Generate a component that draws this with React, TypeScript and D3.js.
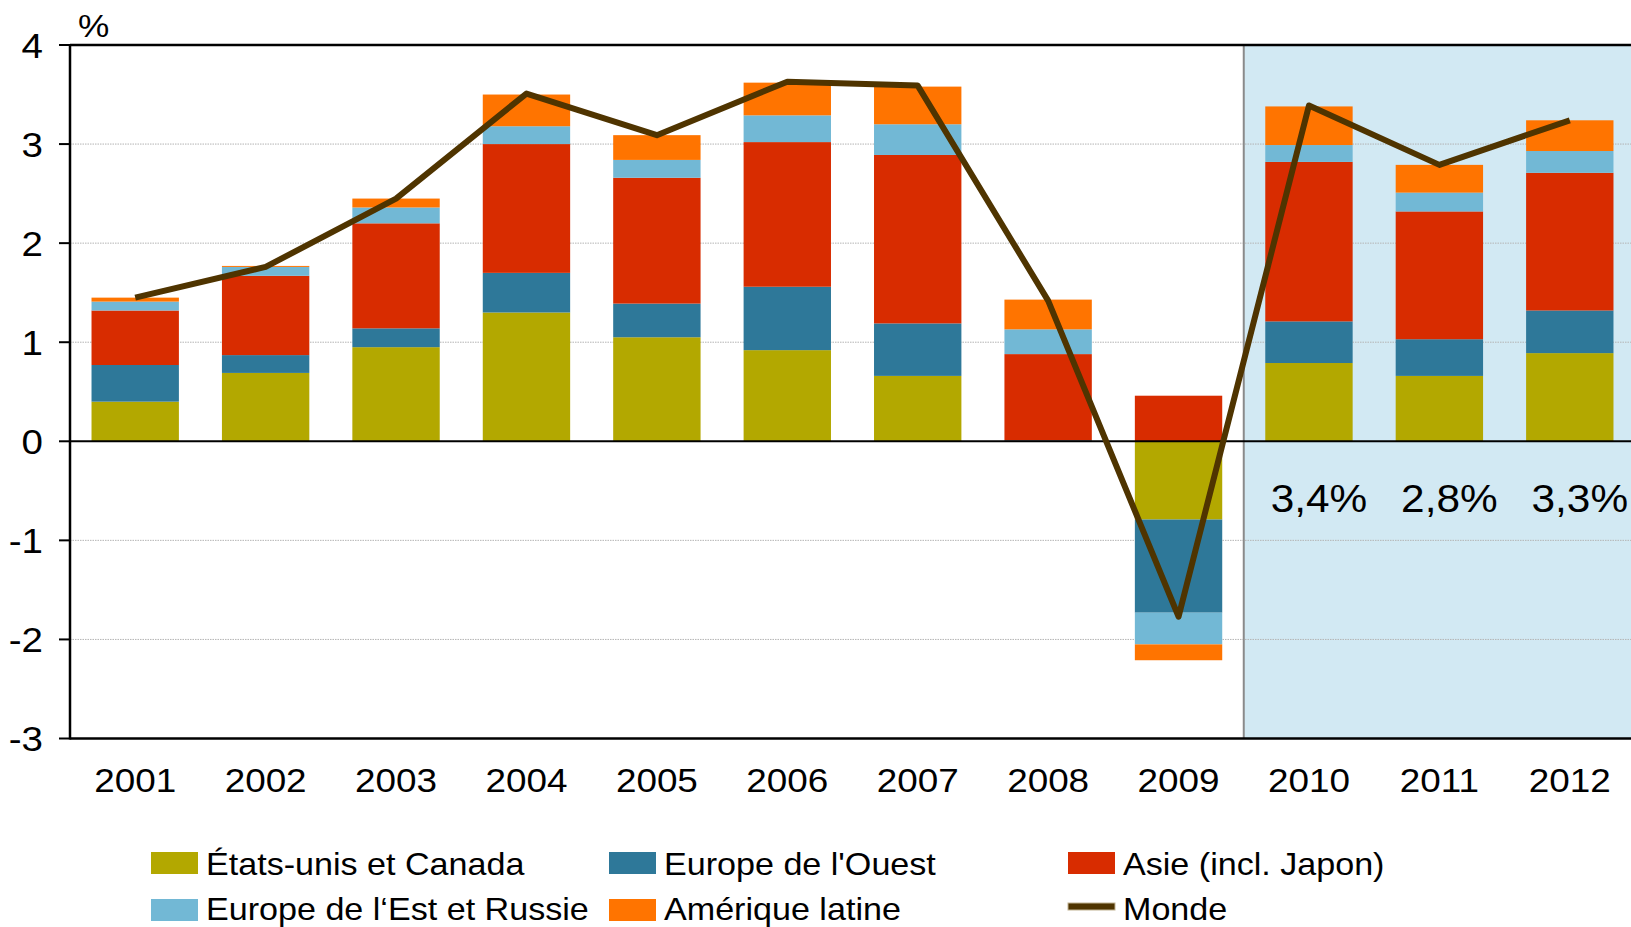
import React from "react";
import * as d3 from "d3";

const years = ["2001", "2002", "2003", "2004", "2005", "2006", "2007", "2008", "2009", "2010", "2011", "2012"];
const usCanada = [0.40, 0.69, 0.95, 1.30, 1.05, 0.92, 0.66, 0.00, -0.79, 0.79, 0.66, 0.89];
const westEurope = [0.37, 0.18, 0.19, 0.40, 0.34, 0.64, 0.53, 0.01, -0.94, 0.42, 0.37, 0.43];
const asia = [0.55, 0.80, 1.06, 1.30, 1.27, 1.46, 1.70, 0.87, 0.46, 1.61, 1.29, 1.39];
const eastEurope = [0.09, 0.09, 0.16, 0.18, 0.18, 0.27, 0.31, 0.25, -0.32, 0.17, 0.19, 0.22];
const latinAmerica = [0.04, 0.01, 0.09, 0.32, 0.25, 0.33, 0.38, 0.30, -0.16, 0.39, 0.28, 0.31];
const world = [1.45, 1.76, 2.45, 3.51, 3.09, 3.63, 3.59, 1.42, -1.77, 3.39, 2.79, 3.24];

const seriesNames = ["États-unis et Canada", "Europe de l'Ouest", "Asie (incl. Japon)", "Europe de l‘Est et Russie", "Amérique latine"];
const seriesColors = ["#b3a800", "#2e7899", "#d82c00", "#72b8d5", "#ff7400"];
const worldName = "Monde";
const worldColor = "#4f3400";
const yTicks = [-3, -2, -1, 0, 1, 2, 3, 4];
const forecastYears = ["2010", "2011", "2012"];
const forecastLabels = ["3,4%", "2,8%", "3,3%"];
const unitLabel = "%";

const W = 1631;
const H = 927;
const left = 70;
const right = 1635;
const SX = 1.1;
const FONT = "'Liberation Sans', Arial, Helvetica, sans-serif";

export default function App() {
  const x = d3.scaleBand<string>().domain(years).range([left, right]).paddingInner(0.33).paddingOuter(0.165);
  const y = d3.scaleLinear().domain([-3, 4]).range([738.5, 45]);
  const seriesArrays = [usCanada, westEurope, asia, eastEurope, latinAmerica];
  const keys = seriesNames.map((_, i) => "s" + i);
  const table = years.map((yr, j) => {
    const row: any = { year: yr };
    keys.forEach((k, i) => (row[k] = seriesArrays[i][j]));
    return row;
  });
  const stacked = d3.stack<any>().keys(keys).offset(d3.stackOffsetDiverging)(table);
  const step = x.step();
  const shadeStart = (x("2010") as number) - (step - x.bandwidth()) / 2;
  const cx = (yr: string) => (x(yr) as number) + x.bandwidth() / 2;
  const line = d3
    .line<number>()
    .x((_, i) => cx(years[i]))
    .y((d) => y(d));

  const txt = (tx: number, ty: number, s: string, size: number, anchor: string, key?: any) => (
    <text
      key={key}
      transform={`translate(${tx},${ty}) scale(${SX},1)`}
      fontSize={size}
      textAnchor={anchor}
      fontFamily={FONT}
      fill="#000"
    >
      {s}
    </text>
  );

  const legendItems = [
    { name: seriesNames[0], color: seriesColors[0], x: 151, y: 852, ty: 875 },
    { name: seriesNames[1], color: seriesColors[1], x: 609, y: 852, ty: 875 },
    { name: seriesNames[2], color: seriesColors[2], x: 1068, y: 852, ty: 875 },
    { name: seriesNames[3], color: seriesColors[3], x: 151, y: 899, ty: 920 },
    { name: seriesNames[4], color: seriesColors[4], x: 609, y: 899, ty: 920 },
  ];

  return (
    <svg
      width={W}
      height={H}
      style={{ position: "absolute", left: 0, top: 0, overflow: "hidden", background: "#fff" }}
    >
      <rect x={0} y={0} width={W} height={H} fill="#fff" />
      <rect x={shadeStart} y={y(4)} width={right - shadeStart} height={y(-3) - y(4)} fill="#d2e9f3" />
      {yTicks
        .filter((t) => t !== 0 && t !== 4 && t !== -3)
        .map((t) => (
          <line key={"g" + t} x1={left} x2={right} y1={y(t)} y2={y(t)} stroke="#b4b4b4" strokeWidth={1} strokeDasharray="1.5,1" />
        ))}
      <line x1={shadeStart} x2={shadeStart} y1={y(4)} y2={y(-3)} stroke="#8a8a8a" strokeWidth={2} />
      {stacked.map((s, i) => (
        <g key={"s" + i} fill={seriesColors[i]}>
          {s.map((d, j) => {
            const y0 = Math.min(y(d[0]), y(d[1]));
            const h = Math.abs(y(d[0]) - y(d[1]));
            return <rect key={j} x={x(years[j])} y={y0} width={x.bandwidth()} height={h} />;
          })}
        </g>
      ))}
      <line x1={left} x2={right} y1={y(0)} y2={y(0)} stroke="#000" strokeWidth={2} />
      <line x1={left} x2={right} y1={y(4)} y2={y(4)} stroke="#000" strokeWidth={2.5} />
      <line x1={left} x2={right} y1={y(-3)} y2={y(-3)} stroke="#000" strokeWidth={2.5} />
      <line x1={left} x2={left} y1={y(4) - 1} y2={y(-3) + 1} stroke="#000" strokeWidth={2.5} />
      {yTicks.map((t) => (
        <g key={"t" + t}>
          <line x1={59} x2={left} y1={y(t)} y2={y(t)} stroke="#000" strokeWidth={2} />
          {txt(43, y(t) + 12.5, String(t), 35, "end")}
        </g>
      ))}
      {txt(78, 37, unitLabel, 32, "start")}
      <path d={line(world) || ""} fill="none" stroke={worldColor} strokeWidth={6} strokeLinejoin="round" />
      {years.map((yr) => txt(cx(yr), 792, yr, 33.5, "middle", "x" + yr))}
      {forecastYears.map((yr, i) => txt(cx(yr) + 10, 512, forecastLabels[i], 38.5, "middle", "f" + yr))}
      {legendItems.map((it) => (
        <g key={it.name}>
          <rect x={it.x} y={it.y} width={47} height={22} fill={it.color} />
          {txt(it.x + 55, it.ty, it.name, 31, "start")}
        </g>
      ))}
      <rect x={1068} y={903} width={47} height={7} fill={worldColor} stroke="#c2b393" strokeWidth={1} />
      {txt(1123, 920, worldName, 31, "start")}
    </svg>
  );
}
